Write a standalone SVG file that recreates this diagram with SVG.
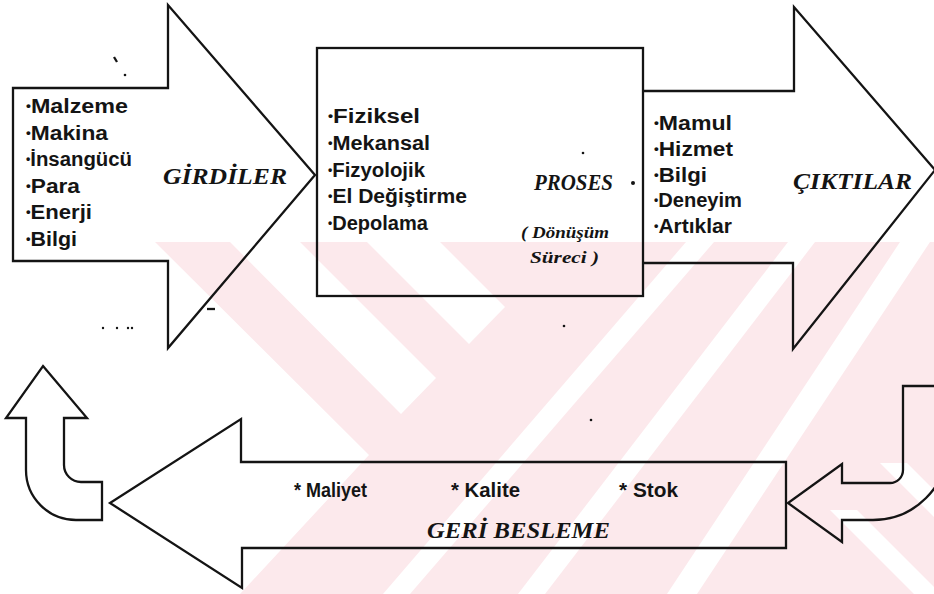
<svg xmlns="http://www.w3.org/2000/svg" width="934" height="594" viewBox="0 0 934 594">
  <defs>
    <style>
      .outline { fill: none; stroke: #141414; stroke-width: 2.3; stroke-linejoin: miter; }
      .item { font-family: "Liberation Sans", Arial, sans-serif; font-weight: bold; font-size: 20px; fill: #141414; }
      .dot { font-size: 12px; }
      .title { font-family: "Liberation Serif", "Times New Roman", serif; font-weight: bold; font-style: italic; font-size: 23px; fill: #141414; }
      .note { font-family: "Liberation Serif", "Times New Roman", serif; font-weight: bold; font-style: italic; font-size: 16px; fill: #141414; }
      .wm { fill: #fce9ec; }
      .gap { fill: #ffffff; }
      .speck { fill: #141414; }
    </style>
    <clipPath id="wmClip">
      <rect x="0" y="242" width="934" height="352"/>
    </clipPath>
  </defs>

  <rect width="934" height="594" fill="#ffffff"/>

  <!-- faint striped background mark in the lower half -->
  <g id="background-mark" clip-path="url(#wmClip)">
    <polygon class="wm" points="155,242 934,242 934,594 240,594 369,455"/>
    <polygon class="gap" points="230,242 300,242 436,378 401,414"/>
    <polygon class="gap" points="367,242 440,242 505,307 469,344"/>
    <polygon class="gap" points="900,242 930,242 697,594 667,594"/>
    <polygon class="gap" points="788,242 815,242 545,594 518,594"/>
    <polygon class="gap" points="686,242 714,242 410,594 383,594"/>
    <polygon class="gap" points="880,463 907,463 934,490 934,517"/>
    <polygon class="gap" points="830,510 857,510 934,587 934,594 914,594"/>
  </g>

  <!-- curved return arrows of the feedback loop -->
  <g id="connectors">
    <path id="feedback-up" class="outline" d="M43,366 L87,418 H64 V465 A17,17 0 0 0 81,482 H102 V520 H76 A50,50 0 0 1 26,470 V418 H6 Z"/>
    <path id="feedback-in" class="outline" d="M903,386 H948 V445 A75,75 0 0 1 873,520 H842 V542 L788,503 L842,464 V483 H890 A13,13 0 0 0 903,470 Z"/>
  </g>

  <g id="girdiler">
    <path class="outline" d="M13,88 H168 V5 L315,175 L168,348 V261 H13 Z"/>
    <text class="item" x="26" y="113" textLength="102" lengthAdjust="spacingAndGlyphs"><tspan class="dot" dy="-3">•</tspan><tspan dy="3">Malzeme</tspan></text>
    <text class="item" x="26" y="140" textLength="82" lengthAdjust="spacingAndGlyphs"><tspan class="dot" dy="-3">•</tspan><tspan dy="3">Makina</tspan></text>
    <text class="item" x="26" y="166" textLength="106" lengthAdjust="spacingAndGlyphs"><tspan class="dot" dy="-3">•</tspan><tspan dy="3">İnsangücü</tspan></text>
    <text class="item" x="26" y="193" textLength="54" lengthAdjust="spacingAndGlyphs"><tspan class="dot" dy="-3">•</tspan><tspan dy="3">Para</tspan></text>
    <text class="item" x="26" y="219" textLength="66" lengthAdjust="spacingAndGlyphs"><tspan class="dot" dy="-3">•</tspan><tspan dy="3">Enerji</tspan></text>
    <text class="item" x="26" y="246" textLength="51" lengthAdjust="spacingAndGlyphs"><tspan class="dot" dy="-3">•</tspan><tspan dy="3">Bilgi</tspan></text>
    <text class="title" x="163" y="184" textLength="124" lengthAdjust="spacingAndGlyphs">GİRDİLER</text>
  </g>

  <g id="proses">
    <rect class="outline" x="317" y="48" width="326" height="248"/>
    <text class="item" x="328" y="123" textLength="92" lengthAdjust="spacingAndGlyphs"><tspan class="dot" dy="-3">•</tspan><tspan dy="3">Fiziksel</tspan></text>
    <text class="item" x="328" y="150" textLength="102" lengthAdjust="spacingAndGlyphs"><tspan class="dot" dy="-3">•</tspan><tspan dy="3">Mekansal</tspan></text>
    <text class="item" x="328" y="177" textLength="97" lengthAdjust="spacingAndGlyphs"><tspan class="dot" dy="-3">•</tspan><tspan dy="3">Fizyolojik</tspan></text>
    <text class="item" x="328" y="203" textLength="139" lengthAdjust="spacingAndGlyphs"><tspan class="dot" dy="-3">•</tspan><tspan dy="3">El Değiştirme</tspan></text>
    <text class="item" x="328" y="230" textLength="100" lengthAdjust="spacingAndGlyphs"><tspan class="dot" dy="-3">•</tspan><tspan dy="3">Depolama</tspan></text>
    <text class="title" x="534" y="190" textLength="79" lengthAdjust="spacingAndGlyphs">PROSES</text>
    <circle class="speck" cx="633" cy="183" r="2"/>
    <circle class="speck" cx="583" cy="153" r="1.3"/>
    <text class="note" x="521" y="238" textLength="88" lengthAdjust="spacingAndGlyphs">( Dönüşüm</text>
    <text class="note" x="530" y="263" textLength="69" lengthAdjust="spacingAndGlyphs">Süreci )</text>
  </g>

  <g id="ciktilar">
    <path class="outline" d="M643,91 H794 V7 L935,170 L793,349 V263 H643"/>
    <text class="item" x="654" y="130" textLength="78" lengthAdjust="spacingAndGlyphs"><tspan class="dot" dy="-3">•</tspan><tspan dy="3">Mamul</tspan></text>
    <text class="item" x="654" y="156" textLength="79" lengthAdjust="spacingAndGlyphs"><tspan class="dot" dy="-3">•</tspan><tspan dy="3">Hizmet</tspan></text>
    <text class="item" x="654" y="182" textLength="53" lengthAdjust="spacingAndGlyphs"><tspan class="dot" dy="-3">•</tspan><tspan dy="3">Bilgi</tspan></text>
    <text class="item" x="654" y="207" textLength="88" lengthAdjust="spacingAndGlyphs"><tspan class="dot" dy="-3">•</tspan><tspan dy="3">Deneyim</tspan></text>
    <text class="item" x="654" y="233" textLength="78" lengthAdjust="spacingAndGlyphs"><tspan class="dot" dy="-3">•</tspan><tspan dy="3">Artıklar</tspan></text>
    <text class="title" x="793" y="189" textLength="119" lengthAdjust="spacingAndGlyphs">ÇIKTILAR</text>
  </g>

  <g id="geri-besleme">
    <path class="outline" d="M786,462 H241 V419 L110,503 L242,588 V548 H786 Z"/>
    <text class="item" x="294" y="497" textLength="73" lengthAdjust="spacingAndGlyphs">* Maliyet</text>
    <text class="item" x="451" y="497" textLength="69" lengthAdjust="spacingAndGlyphs">* Kalite</text>
    <text class="item" x="619" y="497" textLength="59" lengthAdjust="spacingAndGlyphs">* Stok</text>
    <text class="title" x="427" y="538" textLength="183" lengthAdjust="spacingAndGlyphs">GERİ BESLEME</text>
  </g>

  <!-- small loose marks on the sheet -->
  <g id="specks">
    <path class="outline" d="M114,57 L117,62" stroke-width="1.5"/>
    <circle class="speck" cx="125" cy="75" r="1.3"/>
    <path class="outline" d="M207,309 H215" stroke-width="1.6"/>
    <circle class="speck" cx="103" cy="328" r="1.2"/>
    <circle class="speck" cx="117" cy="328" r="1.2"/>
    <circle class="speck" cx="128" cy="328" r="1.2"/>
    <circle class="speck" cx="132" cy="328" r="1.2"/>
    <circle class="speck" cx="564" cy="326" r="1.3"/>
    <circle class="speck" cx="591" cy="420" r="1.3"/>
  </g>
</svg>
